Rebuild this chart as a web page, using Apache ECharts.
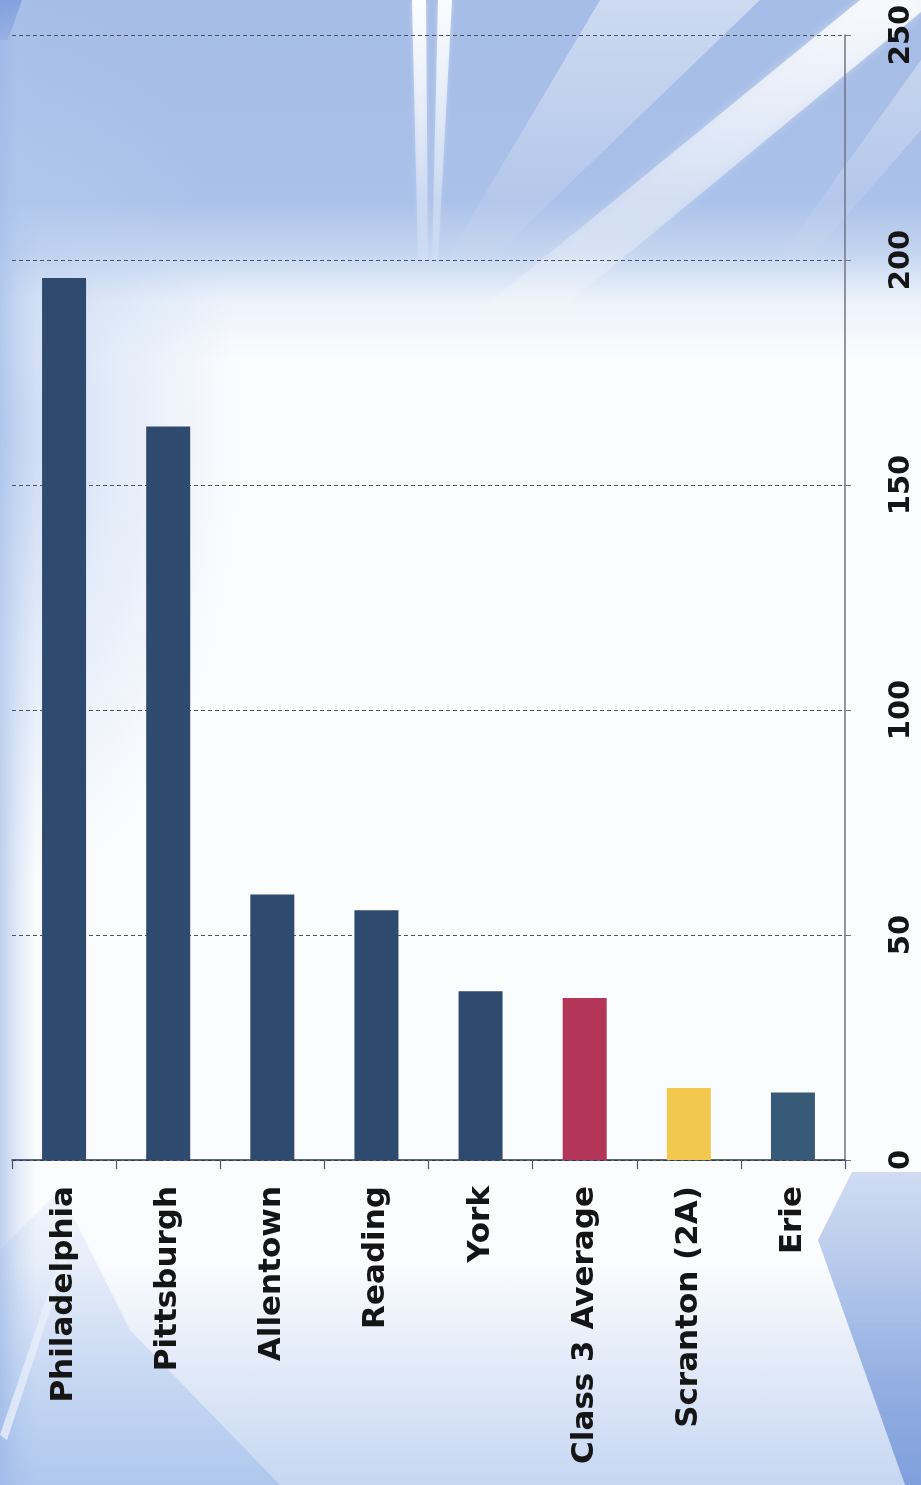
<!DOCTYPE html>
<html>
<head>
<meta charset="utf-8">
<script src="https://cdn.jsdelivr.net/npm/echarts@6/dist/echarts.min.js"></script>
<style>
  html, body { margin: 0; padding: 0; width: 921px; height: 1485px; overflow: hidden; }
  #wrap {
    position: relative; width: 921px; height: 1485px;
    background:
      /* halftone blue haze on the left, below the sky */
      radial-gradient(ellipse 240px 460px at 0px 430px, rgba(165,192,234,0.6) 0%, rgba(185,206,240,0.35) 50%, rgba(255,255,255,0) 100%),
      /* soft blue along the left edge */
      linear-gradient(90deg, rgba(150,178,228,0.6) 0px, rgba(170,195,236,0.3) 18px, rgba(255,255,255,0) 36px),
      /* light blue band at the bottom */
      linear-gradient(180deg, rgba(255,255,255,0) 1260px, rgba(195,212,241,0.5) 1380px, rgba(175,198,237,0.7) 1485px),
      /* blue sky across the top, fading to white */
      linear-gradient(180deg, #a5bce6 0px, #abc1e9 200px, #c3d4f0 250px, rgba(232,240,250,0.8) 300px, rgba(255,255,255,0) 360px),
      #fbfcfe;
  }
  #chart { position: absolute; left: 0; top: 0; width: 921px; height: 1485px; }
</style>
</head>
<body>
<div id="wrap"><div id="chart"></div></div>
<script>
// Categories, values and tick labels for the bar chart
const categories = ['Philadelphia', 'Pittsburgh', 'Allentown', 'Reading', 'York', 'Class 3 Average', 'Scranton (2A)', 'Erie'];
const values = [196, 163, 59, 55.5, 37.5, 36, 16, 15];
const barColors = ['#2f4a6f', '#2f4a6f', '#2f4a6f', '#2f4a6f', '#2f4a6f', '#b33557', '#f2c94e', '#375a78'];
const valueTicks = [0, 50, 100, 150, 200, 250];

const chart = echarts.init(document.getElementById('chart'), null, { renderer: 'canvas' });

const labelFont = { fontFamily: 'DejaVu Sans', fontWeight: 'bold', color: '#151515' };

// vertical gradient fill that fades from one opacity to another
function fade(color, a0, a1) {
  return {
    type: 'linear', x: 0, y: 0, x2: 0, y2: 1,
    colorStops: [
      { offset: 0, color: 'rgba(' + color + ',' + a0 + ')' },
      { offset: 1, color: 'rgba(' + color + ',' + a1 + ')' }
    ]
  };
}
// decorative light streaks and blue wedges behind the plot
function deco(points, fill, blur) {
  return {
    type: 'polygon', z: -10, silent: true,
    shape: { points: points },
    style: { fill: fill, shadowBlur: blur || 0, shadowColor: 'rgba(255,255,255,0.5)' }
  };
}
const W = '255,255,255';
const decorations = [
  deco([[600, 0], [760, 0], [480, 270], [440, 270]], fade(W, 0.45, 0), 0),
  deco([[412, 0], [426, 0], [428, 260], [418, 260]], fade(W, 0.95, 0.1), 5),
  deco([[438, 0], [452, 0], [438, 260], [432, 260]], fade(W, 0.9, 0.1), 5),
  deco([[860, 0], [921, 0], [921, 12], [560, 310], [480, 310]], fade(W, 0.85, 0.1), 10),
  deco([[921, 60], [921, 130], [800, 270], [770, 270]], fade(W, 0.35, 0), 0),
  deco([[0, 1250], [60, 1190], [130, 1330], [280, 1485], [0, 1485]], fade('150,182,232', 0.1, 0.45), 0),
  deco([[0, 1435], [78, 1205], [84, 1208], [7, 1440]], fade(W, 0.15, 0.6), 0),
  deco([[852, 1172], [921, 1172], [921, 1485], [905, 1485], [818, 1240]], fade('128,160,220', 0.35, 1), 0),
  deco([[0, 0], [22, 0], [8, 40], [0, 40]], fade('125,157,219', 0.85, 0.3), 0)
];

chart.setOption({
  backgroundColor: 'transparent',
  animation: false,
  graphic: { elements: decorations },
  grid: { left: 12, right: 76, top: 35, bottom: 325, containLabel: false },
  xAxis: {
    type: 'category',
    data: categories,
    axisLine: { show: true, lineStyle: { color: '#2a3650', width: 1.5 } },
    axisTick: { show: true, length: 9, lineStyle: { color: '#4a5568', width: 1.2 } },
    axisLabel: Object.assign({ rotate: 90, fontSize: 31, margin: 26 }, labelFont),
    splitLine: { show: false }
  },
  yAxis: {
    type: 'value',
    position: 'right',
    min: valueTicks[0],
    max: valueTicks[valueTicks.length - 1],
    interval: 50,
    axisLine: { show: true, lineStyle: { color: '#6f7580', width: 1.5 } },
    axisTick: { show: true, length: 6, lineStyle: { color: '#6f7580' } },
    axisLabel: Object.assign({ rotate: 90, fontSize: 29, margin: 42 }, labelFont),
    splitLine: { show: true, lineStyle: { color: '#4c5260', type: [4, 3], width: 1 } }
  },
  series: [{
    type: 'bar',
    barWidth: 44,
    data: values.map((v, i) => ({ value: v, itemStyle: { color: barColors[i] } }))
  }]
});
</script>
</body>
</html>
